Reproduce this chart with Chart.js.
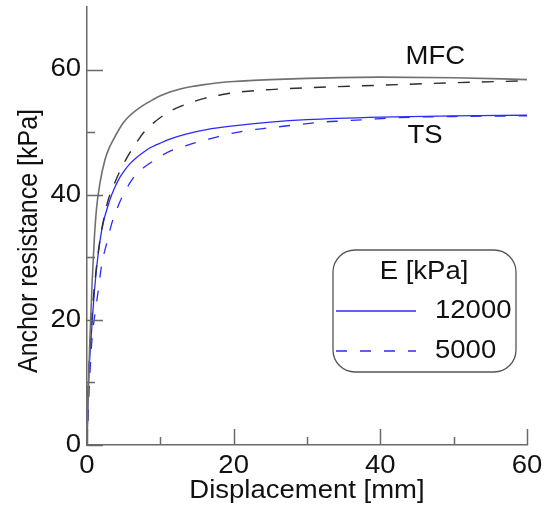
<!DOCTYPE html>
<html>
<head>
<meta charset="utf-8">
<script src="https://cdn.jsdelivr.net/npm/chart.js@4.4.1/dist/chart.umd.min.js"></script>
<style>
  html, body { margin: 0; padding: 0; background: #fff; }
  canvas { display: block; }
</style>
</head>
<body>
<canvas id="chart_anchor" width="547" height="513"></canvas>
<script>
// Anchor resistance vs displacement, two models (MFC, TS) for two soil stiffnesses
const mfcDisp12000 = [0, 0.15, 0.4, 0.7, 1.0, 1.3, 1.77, 2.45, 3.0, 3.6, 4.3, 4.95, 5.7, 6.5, 7.3, 8.1, 9, 10, 11.3, 12.7, 14.3, 16, 18, 20, 25, 30, 40, 50, 60];
const mfcRes12000 = [0, 8, 17, 26, 33, 37.8, 41.9, 45.6, 47.4, 48.8, 50.3, 51.5, 52.5, 53.3, 54.0, 54.6, 55.2, 55.8, 56.4, 56.9, 57.3, 57.6, 57.9, 58.1, 58.4, 58.6, 58.8, 58.7, 58.4];

const mfcDisp5000 = [0, 0.2, 0.64, 1.2, 1.8, 2.4, 2.9, 3.4, 4.5, 5.3, 6.1, 6.9, 7.7, 9, 10.2, 11.4, 12.7, 14.3, 16, 18, 20, 25, 30, 40, 50, 60];
const mfcRes5000 = [0, 10, 20, 27.5, 33, 36.8, 39.2, 40.8, 43.8, 45.6, 47.2, 48.6, 49.9, 51.4, 52.5, 53.4, 54.1, 54.8, 55.4, 55.9, 56.3, 56.8, 57.1, 57.5, 57.9, 58.2];

const tsDisp12000 = [0, 0.18, 0.64, 1.2, 2.0, 3.1, 3.8, 4.5, 5.2, 5.9, 6.8, 7.7, 8.6, 9.5, 11.3, 13.5, 16.3, 20, 25, 30, 40, 50, 60];
const tsRes12000 = [0, 9.0, 18.5, 27, 34.3, 39.1, 41.2, 42.8, 44.0, 45.0, 46.0, 46.8, 47.5, 48.0, 48.9, 49.7, 50.4, 51.0, 51.6, 52.0, 52.4, 52.6, 52.7];

const tsDisp5000 = [0, 0.3, 0.64, 1.1, 1.55, 2.0, 2.7, 3.4, 4.5, 5.0, 5.7, 6.5, 7.7, 9.05, 10.4, 11.8, 13.4, 15, 17, 19, 22, 25, 28, 32, 35, 38, 42, 50, 60];
const tsRes5000 = [0, 9, 16.3, 21.1, 24.8, 28.8, 32.3, 35.5, 38.9, 40.2, 41.6, 43, 44.3, 45.4, 46.4, 47.2, 47.8, 48.4, 49.0, 49.6, 50.3, 50.7, 51.1, 51.6, 51.8, 52.0, 52.3, 52.5, 52.6];

const xTickValues = [0, 20, 40, 60];
const xMinorTicks = [10, 30, 50];
const yTickValues = [0, 20, 40, 60];
const yMinorTicks = [10, 30, 50];

const legendTitle = "E [kPa]";
const stiffnessLabels = ["12000", "5000"];
const modelLabels = ["MFC", "TS"];
const xTitle = "Displacement [mm]";
const yTitle = "Anchor resistance [kPa]";

const FONT = "'Liberation Sans', Arial, Helvetica, sans-serif";
const FONT_SIZE = 25;
const TEXT_STRETCH = 1.1; // lettering is a little wider than plain Arial
const TEXT = "#111";
const AXIS = "#6a6a6a";
const BLUE = "#2a2aff";

function toPoints(xs, ys) {
  return xs.map((x, i) => ({ x: x, y: ys[i] }));
}

function lineSet(label, xs, ys, color, dash, width) {
  return {
    label: label,
    data: toPoints(xs, ys),
    showLine: true,
    borderColor: color,
    borderWidth: width,
    borderDash: dash,
    pointRadius: 0,
    cubicInterpolationMode: "monotone",
    fill: false,
  };
}

// text with a slight horizontal stretch
function drawText(ctx, str, x, y, align, rotate) {
  ctx.save();
  ctx.translate(x, y);
  if (rotate) ctx.rotate(-Math.PI / 2);
  if (!rotate) ctx.scale(TEXT_STRETCH, 1);
  else ctx.scale(1, TEXT_STRETCH);
  ctx.textAlign = align;
  ctx.textBaseline = "middle";
  ctx.fillText(str, 0, 0);
  ctx.restore();
}

// inward tick marks, tick labels, axis titles, curve labels and the legend box
const decorPlugin = {
  id: "decor",
  afterDatasetsDraw(chart) {
    const ctx = chart.ctx;
    const xs = chart.scales.x;
    const ys = chart.scales.y;
    const area = chart.chartArea;

    ctx.save();
    ctx.strokeStyle = AXIS;
    ctx.lineWidth = 1.5;
    ctx.beginPath();
    yTickValues.concat(yMinorTicks).forEach((v) => {
      const len = yMinorTicks.includes(v) ? 8 : 16;
      const py = Math.round(ys.getPixelForValue(v)) + 0.5;
      ctx.moveTo(area.left, py);
      ctx.lineTo(area.left + len, py);
    });
    xTickValues.concat(xMinorTicks).forEach((v) => {
      const len = xMinorTicks.includes(v) ? 8 : 16;
      const px = Math.round(xs.getPixelForValue(v)) + 0.5;
      ctx.moveTo(px, area.bottom);
      ctx.lineTo(px, area.bottom - len);
    });
    ctx.stroke();

    ctx.fillStyle = TEXT;
    ctx.font = FONT_SIZE + "px " + FONT;

    // tick labels
    yTickValues.forEach((v) => {
      drawText(ctx, String(v), area.left - 6, ys.getPixelForValue(v), "right");
    });
    xTickValues.forEach((v) => {
      drawText(ctx, String(v), xs.getPixelForValue(v), area.bottom + 21, "center");
    });

    // axis titles
    drawText(ctx, xTitle, (area.left + area.right) / 2, 491, "center");
    drawText(ctx, yTitle, 29, 241, "center", true);

    // model labels next to the curves
    drawText(ctx, modelLabels[0], xs.getPixelForValue(47.5), ys.getPixelForValue(62), "center");
    drawText(ctx, modelLabels[1], xs.getPixelForValue(46.1), ys.getPixelForValue(49.3), "center");

    // legend
    const bx = 333, by = 250, bw = 183, bh = 122, r = 22;
    ctx.beginPath();
    ctx.moveTo(bx + r, by);
    ctx.arcTo(bx + bw, by, bx + bw, by + bh, r);
    ctx.arcTo(bx + bw, by + bh, bx, by + bh, r);
    ctx.arcTo(bx, by + bh, bx, by, r);
    ctx.arcTo(bx, by, bx + bw, by, r);
    ctx.closePath();
    ctx.fillStyle = "#fff";
    ctx.fill();
    ctx.strokeStyle = "#555";
    ctx.lineWidth = 1.3;
    ctx.stroke();

    ctx.fillStyle = TEXT;
    drawText(ctx, legendTitle, bx + 91, by + 22, "center");

    const rows = [by + 61, by + 101];
    const dashes = [[], [11, 13]];
    rows.forEach((ry, i) => {
      ctx.beginPath();
      ctx.setLineDash(dashes[i]);
      ctx.strokeStyle = BLUE;
      ctx.lineWidth = 1.3;
      ctx.moveTo(bx + 3, ry);
      ctx.lineTo(bx + 83, ry);
      ctx.stroke();
      ctx.setLineDash([]);
      drawText(ctx, stiffnessLabels[i], bx + 102, ry, "left");
    });
    ctx.restore();
  },
};

function initializeAnchorChart() {
  const ctx = document.getElementById("chart_anchor").getContext("2d");
  return new Chart(ctx, {
    type: "scatter",
    data: {
      datasets: [
        lineSet(modelLabels[0] + " " + stiffnessLabels[0], mfcDisp12000, mfcRes12000, "#707070", [], 1.6),
        lineSet(modelLabels[0] + " " + stiffnessLabels[1], mfcDisp5000, mfcRes5000, "#2e2e2e", [12, 12], 1.4),
        lineSet(modelLabels[1] + " " + stiffnessLabels[0], tsDisp12000, tsRes12000, BLUE, [], 1.3),
        lineSet(modelLabels[1] + " " + stiffnessLabels[1], tsDisp5000, tsRes5000, BLUE, [11, 13], 1.3),
      ],
    },
    options: {
      responsive: false,
      animation: false,
      devicePixelRatio: 1,
      layout: {
        padding: { top: 7, right: 20, left: 0, bottom: 0 },
      },
      scales: {
        x: {
          type: "linear",
          min: 0,
          max: 60,
          afterBuildTicks: (s) => {
            s.ticks = xTickValues.map((v) => ({ value: v }));
          },
          afterFit: (s) => {
            s.height = 68;
            s.paddingLeft = 0;
            s.paddingRight = 0;
          },
          grid: { display: false, drawTicks: false },
          border: { display: true, color: AXIS, width: 1.5 },
          ticks: { display: false },
        },
        y: {
          type: "linear",
          min: 0,
          max: 70,
          afterBuildTicks: (s) => {
            s.ticks = yTickValues.map((v) => ({ value: v }));
          },
          afterFit: (s) => {
            s.width = 87;
            s.paddingTop = 0;
            s.paddingBottom = 0;
          },
          grid: { display: false, drawTicks: false },
          border: { display: true, color: AXIS, width: 1.5 },
          ticks: { display: false },
        },
      },
      plugins: {
        legend: { display: false },
        tooltip: { enabled: false },
      },
    },
    plugins: [decorPlugin],
  });
}

initializeAnchorChart();
</script>
</body>
</html>
